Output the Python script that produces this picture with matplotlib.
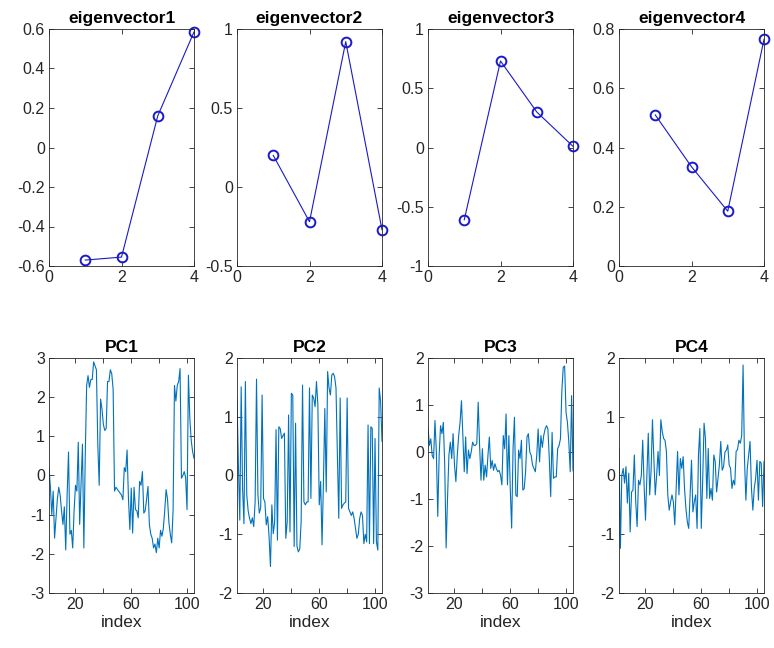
import matplotlib
matplotlib.use("Agg")
import matplotlib.pyplot as plt
import numpy as np

plt.rcParams['font.family'] = ['Liberation Sans', 'DejaVu Sans']
plt.rcParams['axes.unicode_minus'] = False

# loadings of the four eigenvectors
eig_x = [1, 2, 3, 4]
eigvec1 = [-0.57, -0.555, 0.16, 0.585]
eigvec2 = [0.2, -0.22, 0.92, -0.27]
eigvec3 = [-0.61, 0.73, 0.30, 0.01]
eigvec4 = [0.51, 0.335, 0.185, 0.765]

# principal component scores
pc1 = [0.2, -0.3, -1.0, -0.4, -1.6, -1.1, -0.6, -0.3, -0.5, -0.9,
       -1.25, -0.8, -1.9, -0.5, 0.6, -1.5, -1.4, -1.85, -0.9, -0.25,
       -0.4, 0.85, -1.25, -0.2, 0.8, -1.85, 0.5, 2.3, 2.55, 2.25,
       2.45, 2.45, 2.9, 2.8, 2.7, 0.8, -0.25, 1.95, 1.7, 1.3,
       1.15, 1.2, 2.4, 2.4, 2.7, 2.6, 2.2, -0.4, -0.3, -0.35,
       -0.4, -0.45, -0.5, -0.62, 0.2, 0.1, 0.65, -0.6, -1.38, -0.32,
       -1.47, -0.3, -0.87, -0.9, -1.08, -0.15, -0.25, 0.1, -0.96, -0.9,
       -0.6, -0.28, -1.25, -1.5, -1.6, -1.85, -1.75, -1.97, -1.6, -1.85,
       -1.4, -1.55, -1.35, -0.9, -0.36, -0.6, -1.2, -1.5, -1.72, -0.9,
       2.3, 1.9, 2.3, 2.4, 2.73, -0.07, 0.0, 0.1, -0.05, -0.87,
       2.56, 1.46, 0.9, 0.61, 0.44]
pc2 = [1.3, 0.2, -0.76, 1.51, -0.22, -0.82, 1.6, -0.33, -0.6, -0.73,
       -0.82, -0.72, -0.87, -0.45, 1.64, -0.33, -0.64, -0.55, 1.37, -0.39,
       -0.45, -0.84, -0.7, -1.04, -1.55, -0.5, -0.99, -0.79, 0.78, -1.1,
       0.83, 0.8, 0.63, 0.68, 0.72, -1.07, -0.79, 1.03, -0.96, 1.4,
       1.37, -1.21, 0.89, -1.2, -1.3, -1.25, -0.79, 1.54, -0.45, -0.5,
       -0.45, -0.45, 1.49, -0.39, 1.37, 1.32, 1.17, 1.6, 1.2, -0.5,
       -0.1, -1.18, -0.1, 1.14, -0.28, 1.77, 1.49, 1.37, 1.71, 1.74,
       1.68, 1.49, 0.35, -0.73, 1.32, -0.56, -0.5, -0.47, -0.45, 1.32,
       -0.56, -0.62, -0.68, -0.62, -0.73, -0.9, -1.07, -1.0, -0.73, -0.62,
       -0.68, -1.16, -1.0, -1.13, 0.86, -1.16, 0.83, 0.8, -1.16, 0.63,
       -1.13, -1.27, 1.49, 1.26, 0.58]
pc3 = [0.53, 0.14, 0.28, -0.07, -0.14, 0.67, 0.0, -1.37, -0.07, 0.56,
       0.39, 0.63, -0.28, -2.04, -0.99, -0.07, 0.21, -0.14, 0.39, -0.28,
       -0.63, -0.07, 0.35, 0.63, 1.09, 0.35, -0.42, 0.32, -0.46, 0.04,
       -0.14, 0.0, 0.21, 0.14, 0.14, 0.18, 1.06, 0.14, -0.6, 0.07,
       -0.6, -0.28, -0.53, -0.07, 0.32, -0.35, -0.18, -0.39, -0.25, -0.35,
       -0.42, -0.39, -0.49, -0.7, 0.35, 0.07, 0.81, -0.7, 0.35, -0.78,
       -1.62, 0.07, 0.74, -0.92, -0.95, 0.04, -0.14, 0.25, -0.81, -0.78,
       -0.42, 0.32, 0.39, 0.0, -0.07, -0.28, -0.35, -0.42, -0.07, 0.49,
       -0.21, 0.35, 0.1, 0.35, 0.49, 0.56, 0.49, -0.14, -0.95, 0.42,
       -0.56, -0.53, -0.53, 0.07, 0.14, 0.28, 1.3, 1.8, 1.83, 0.85,
       0.63, 0.21, -0.42, 1.2, -0.4]
pc4 = [0.46, -1.24, 0.0, 0.12, -0.13, 0.15, -0.47, 0.04, -0.96, -0.28,
       -0.25, 0.35, -0.45, -0.87, -0.08, -0.16, 0.0, 0.6, -0.16, -0.76,
       0.0, 0.72, -0.33, 0.07, 0.95, 0.29, -0.33, 0.0, 0.41, 0.0,
       0.95, 0.75, 0.63, 0.6, 0.41, -0.33, -0.59, -0.45, -0.33, -0.45,
       -0.84, -0.22, 0.41, -0.33, 0.29, 0.12, 0.32, -0.22, -0.56, -0.79,
       -0.9, -0.33, 0.26, -0.62, -0.45, -0.33, -0.9, 0.35, 0.8, -0.9,
       -0.1, 0.89, 0.63, -0.39, 0.46, -0.39, -0.22, -0.42, 0.35, 0.24,
       -0.28, -0.05, 0.18, 0.58, 0.09, 0.15, 0.4, 0.43, 0.52, 0.18,
       0.12, -0.22, -0.08, -0.16, 0.41, 0.44, 0.6, 0.55, 0.68, 1.88,
       0.29, -0.42, 0.12, 0.35, 0.58, -0.22, -0.59, -0.22, -0.05, 0.26,
       -0.42, 0.24, 0.21, -0.53, 0.24]

eig_titles = ['eigenvector1', 'eigenvector2', 'eigenvector3', 'eigenvector4']
eig_ylims = [(-0.6, 0.6), (-0.5, 1), (-1, 1), (0, 0.8)]
eig_yticks = [[-0.6, -0.4, -0.2, 0, 0.2, 0.4, 0.6], [-0.5, 0, 0.5, 1],
              [-1, -0.5, 0, 0.5, 1], [0, 0.2, 0.4, 0.6, 0.8]]
pc_titles = ['PC1', 'PC2', 'PC3', 'PC4']
pc_ylims = [(-3, 3), (-2, 2), (-3, 2), (-2, 2)]
pc_xticks = [20, 40, 60, 80, 100]
pc_xticklabels = ['20', '', '60', '', '100']

axis_col = '#262626'


def fmt(v):
    s = ('%.1f' % v).rstrip('0').rstrip('.')
    return '0' if s in ('-0', '') else s


def style(ax):
    ax.tick_params(direction='in', top=True, right=True, length=3.5,
                   width=0.6, colors=axis_col, labelsize=11.5, pad=3)
    for sp in ax.spines.values():
        sp.set_linewidth(0.6)
        sp.set_color(axis_col)


fig = plt.figure(figsize=(7.74, 6.48), dpi=100)
lefts = [49 / 774, 237 / 774, 428 / 774, 619 / 774]
w = 145 / 774

eigvecs = [eigvec1, eigvec2, eigvec3, eigvec4]
for i in range(4):
    ax = fig.add_axes([lefts[i], 1 - 266 / 648, w, 237 / 648])
    ax.plot(eig_x, eigvecs[i], '-o', color='#1a1ac8', lw=0.8, ms=7,
            mfc='none', mew=1.4, clip_on=False)
    ax.set_xlim(0, 4)
    ax.set_ylim(*eig_ylims[i])
    ax.set_xticks([0, 2, 4])
    ax.set_yticks(eig_yticks[i])
    ax.set_yticklabels([fmt(v) for v in eig_yticks[i]])
    ax.set_title(eig_titles[i], fontsize=12.5, fontweight='bold', pad=4)
    style(ax)

pcs = [pc1, pc2, pc3, pc4]
for i in range(4):
    ax = fig.add_axes([lefts[i], 1 - 593 / 648, w, 235 / 648])
    x = np.arange(1, len(pcs[i]) + 1)
    ax.plot(x, pcs[i], color='#0072BD', lw=0.8)
    ax.set_xlim(1, 105)
    ax.set_ylim(*pc_ylims[i])
    ax.set_xticks(pc_xticks)
    ax.set_xticklabels(pc_xticklabels)
    lo, hi = pc_ylims[i]
    ax.set_yticks(np.arange(lo, hi + 1))
    ax.set_title(pc_titles[i], fontsize=12.5, fontweight='bold', pad=4)
    ax.set_xlabel('index', fontsize=12.5, color=axis_col, labelpad=2)
    style(ax)

fig.savefig('out.png', dpi=100)
